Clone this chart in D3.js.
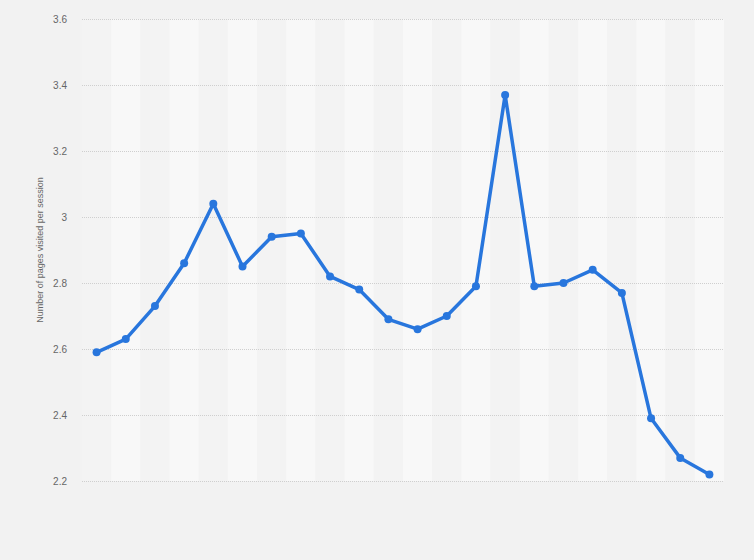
<!DOCTYPE html>
<html>
<head>
<meta charset="utf-8">
<script src="https://cdn.jsdelivr.net/npm/d3@7"></script>
<style>
  html, body { margin: 0; padding: 0; background: #f2f2f2; }
  svg { display: block; font-family: "Liberation Sans", Arial, sans-serif; }
</style>
</head>
<body>
<svg id="chart" width="754" height="560"></svg>
<script>
// Values; the period labels are not shown on the chart
var periods = ["P1", "P2", "P3", "P4", "P5", "P6", "P7", "P8", "P9", "P10", "P11",
               "P12", "P13", "P14", "P15", "P16", "P17", "P18", "P19", "P20", "P21", "P22"];
var pagesPerSession = [2.59, 2.63, 2.73, 2.86, 3.04, 2.85, 2.94, 2.95, 2.82, 2.78, 2.69,
                       2.66, 2.70, 2.79, 3.37, 2.79, 2.80, 2.84, 2.77, 2.39, 2.27, 2.22];
var yTicks = [2.2, 2.4, 2.6, 2.8, 3, 3.2, 3.4, 3.6];
var yTitle = "Number of pages visited per session";

function renderChart() {
  var svg = d3.select("#chart");
  var left = 82, right = 724, top = 19, bottom = 481;

  var x = d3.scaleBand().domain(periods).range([left, right]);
  var y = d3.scaleLinear().domain([2.2, 3.6]).range([bottom, top]);

  /* alternating column bands */
  svg.append("g")
    .selectAll("rect")
    .data(periods)
    .join("rect")
      .attr("x", function(d) { return x(d); })
      .attr("y", top)
      .attr("width", x.bandwidth())
      .attr("height", bottom - top)
      .attr("fill", function(d, i) { return i % 2 ? "#f8f8f8" : "#f3f3f3"; });

  /* y axis: dotted grid + labels */
  var yAxis = svg.append("g")
    .attr("transform", "translate(" + left + ",0)")
    .call(d3.axisLeft(y).tickValues(yTicks).tickSize(-(right - left)).tickPadding(15)
      .tickFormat(function(d) { return d3.format("")(+d.toFixed(1)); }));
  yAxis.select(".domain").remove();
  yAxis.selectAll(".tick line")
    .attr("stroke", "#cfcfcf")
    .attr("stroke-dasharray", "1,1");
  yAxis.selectAll(".tick text")
    .attr("fill", "#666")
    .attr("font-size", 10);

  svg.append("text")
    .attr("transform", "translate(43,250) rotate(-90)")
    .attr("text-anchor", "middle")
    .attr("font-size", 9)
    .attr("fill", "#666")
    .text(yTitle);

  /* the line and its markers */
  var line = d3.line()
    .x(function(d, i) { return x(periods[i]) + x.bandwidth() / 2; })
    .y(function(d) { return y(d); });

  svg.append("path")
    .datum(pagesPerSession)
    .attr("d", line)
    .attr("fill", "none")
    .attr("stroke", "#2876dd")
    .attr("stroke-width", 3.5)
    .attr("stroke-linejoin", "round");

  svg.append("g")
    .selectAll("circle")
    .data(pagesPerSession)
    .join("circle")
      .attr("cx", function(d, i) { return x(periods[i]) + x.bandwidth() / 2; })
      .attr("cy", function(d) { return y(d); })
      .attr("r", 4)
      .attr("fill", "#2876dd");
}

renderChart();
</script>
</body>
</html>
